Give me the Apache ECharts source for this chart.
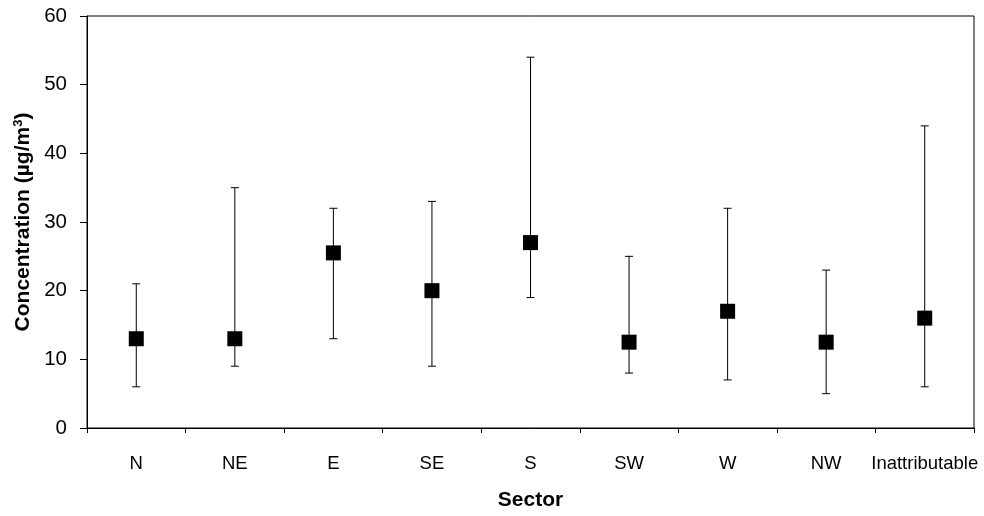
<!DOCTYPE html>
<html>
<head>
<meta charset="utf-8">
<script src="https://cdn.jsdelivr.net/npm/echarts@6/dist/echarts.min.js"></script>
<style>
  html, body { margin: 0; padding: 0; background: #fff; }
  #chart { width: 984px; height: 516px; }
</style>
</head>
<body>
<div id="chart"></div>
<script>
// Concentration by wind sector: mean with min/max range
const sectors = ['N', 'NE', 'E', 'SE', 'S', 'SW', 'W', 'NW', 'Inattributable'];
const meanValues = [13, 13, 25.5, 20, 27, 12.5, 17, 12.5, 16];
const lowValues = [6, 9, 13, 9, 19, 8, 7, 5, 6];
const highValues = [21, 35, 32, 33, 54, 25, 32, 23, 44];
const yTicks = [0, 10, 20, 30, 40, 50, 60];

const rangeData = sectors.map((s, i) => [i, lowValues[i], highValues[i]]);

const chart = echarts.init(document.getElementById('chart'), null, { renderer: 'canvas' });

const font = 'Liberation Sans, Arial, sans-serif';

chart.setOption({
  animation: false,
  backgroundColor: '#fff',
  grid: {
    left: 87, right: 10, top: 16, bottom: 81,
    show: true, borderColor: '#000', borderWidth: 1, backgroundColor: 'transparent'
  },
  xAxis: {
    type: 'category',
    data: sectors,
    boundaryGap: true,
    name: 'Sector',
    nameLocation: 'middle',
    nameGap: 62,
    nameTextStyle: { fontFamily: font, fontSize: 21, fontWeight: 'bold', color: '#000' },
    axisLine: { lineStyle: { color: '#000', width: 1 } },
    axisTick: { show: true, inside: false, length: 5, lineStyle: { color: '#000' } },
    axisLabel: { fontFamily: font, fontSize: 18.5, color: '#000', margin: 26, interval: 0 },
    splitLine: { show: false }
  },
  yAxis: {
    type: 'value',
    min: yTicks[0],
    max: yTicks[yTicks.length - 1],
    interval: 10,
    name: 'Concentration (µg/m{sup|3})',
    nameLocation: 'middle',
    nameGap: 50,
    nameRotate: 90,
    nameTextStyle: {
      fontFamily: font, fontSize: 21, fontWeight: 'bold', color: '#000',
      rich: {
        sup: { fontFamily: font, fontSize: 13, fontWeight: 'bold', color: '#000', verticalAlign: 'top', padding: [0, 0, 9, 0] }
      }
    },
    axisLine: { show: true, lineStyle: { color: '#000', width: 1 } },
    axisTick: { show: true, inside: false, length: 7, lineStyle: { color: '#000' } },
    axisLabel: { fontFamily: font, fontSize: 20.5, color: '#000', margin: 20 },
    splitLine: { show: false }
  },
  series: [
    {
      type: 'custom',
      name: 'Range',
      data: rangeData,
      z: 2,
      renderItem: function (params, api) {
        const x = api.value(0);
        const lo = api.coord([x, api.value(1)]);
        const hi = api.coord([x, api.value(2)]);
        const cap = 4;
        const style = { stroke: '#000', lineWidth: 1 };
        return {
          type: 'group',
          children: [
            { type: 'line', shape: { x1: lo[0], y1: lo[1], x2: hi[0], y2: hi[1] }, style: style },
            { type: 'line', shape: { x1: lo[0] - cap, y1: lo[1], x2: lo[0] + cap, y2: lo[1] }, style: style },
            { type: 'line', shape: { x1: hi[0] - cap, y1: hi[1], x2: hi[0] + cap, y2: hi[1] }, style: style }
          ]
        };
      }
    },
    {
      type: 'scatter',
      name: 'Mean',
      data: meanValues,
      symbol: 'rect',
      symbolSize: 15,
      z: 3,
      itemStyle: { color: '#000', opacity: 1 }
    }
  ]
});
</script>
</body>
</html>
